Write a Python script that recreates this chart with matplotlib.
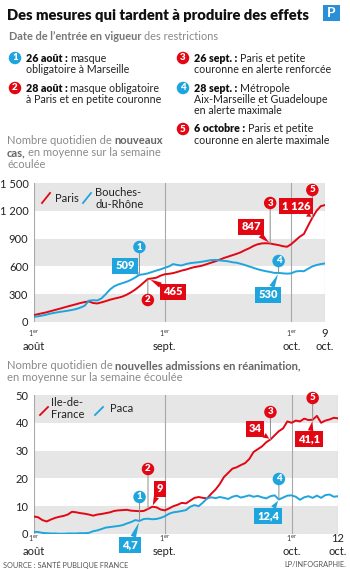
import matplotlib
matplotlib.use("Agg")
import matplotlib.pyplot as plt
from matplotlib.transforms import Affine2D, blended_transform_factory
from matplotlib.patches import Rectangle
from matplotlib.lines import Line2D

plt.rcParams["font.family"] = ["Lato", "DejaVu Sans"]

RED = "#e30613"
BLUE = "#1ea5de"
GREY_TXT = "#8a8a8a"
BAND = "#e6e6e6"
VLINE = "#a8a8a8"

# ---- data (day 0 = 1er août) ----
cases_paris = [75, 85, 95, 105, 118, 130, 142, 155, 168, 180, 192, 205, 215, 222, 205,
               200, 212, 225, 240, 252, 262, 275, 295, 320, 350, 385, 425, 465, 470, 478,
               500, 515, 520, 528, 540, 555, 565, 580, 592, 600, 610, 625, 640, 655, 672,
               690, 705, 720, 735, 752, 775, 795, 820, 838, 848, 850, 847, 838, 830, 818,
               812, 840, 880, 920, 950, 1040, 1126, 1200, 1250, 1262]
cases_bdr = [55, 62, 70, 80, 92, 100, 108, 115, 122, 130, 140, 155, 175, 230, 235,
             232, 255, 300, 350, 385, 405, 420, 435, 455, 480, 509, 515, 525, 540, 555,
             568, 585, 600, 625, 615, 610, 625, 635, 640, 645, 652, 660, 668, 670, 665,
             660, 655, 645, 640, 628, 615, 600, 585, 570, 558, 548, 540, 530, 530, 525,
             522, 525, 545, 550, 548, 575, 600, 615, 625, 632]
rea_idf = [6.3, 6.0, 5.0, 4.5, 5.2, 5.8, 6.2, 6.5, 7.0, 8.0, 7.8, 7.5, 7.3, 7.0, 6.6,
           7.0, 7.2, 7.5, 7.8, 8.3, 8.5, 8.6, 8.7, 8.4, 8.3, 8.2, 8.3, 9.0, 9.8, 9.6,
           8.8, 8.5, 9.2, 10.0, 10.5, 11.2, 11.0, 12.0, 13.0, 13.3, 13.0, 12.8, 14.5, 16.0, 18.0,
           20.5, 22.0, 23.5, 24.0, 24.8, 25.5, 27.0, 29.5, 30.5, 31.5, 33.0, 34.0, 35.5, 37.0, 38.0,
           40.5, 40.0, 40.8, 40.5, 41.5, 41.0, 41.1, 42.5, 40.0, 40.8, 41.2, 41.8, 41.6]
rea_paca = [0.8, 0.7, 0.4, 0.3, 0.2, 0.2, 0.1, 0.1, 0.2, 0.2, 0.2, 0.3, 0.3, 0.4, 1.0,
            1.3, 1.8, 2.3, 2.5, 2.7, 2.9, 3.2, 3.8, 4.3, 5.0, 4.7, 5.4, 5.5, 5.3, 5.4,
            5.8, 6.4, 7.3, 7.8, 8.0, 8.3, 8.6, 9.8, 10.4, 10.0, 11.3, 12.8, 13.2, 12.9, 13.3,
            13.0, 12.6, 13.4, 13.8, 13.1, 13.5, 13.9, 13.4, 13.7, 13.2, 12.8, 13.6, 13.9, 12.4, 13.1,
            13.8, 13.9, 13.4, 12.3, 13.2, 13.6, 13.0, 13.8, 13.0, 14.0, 14.2, 13.4, 13.6]

month_days = [0, 31, 61]
yticks_cases = [0, 300, 600, 900, 1200, 1500]
ytick_cases_labels = ["0", "300", "600", "900", "1 200", "1 500"]
yticks_rea = [0, 10, 20, 30, 40, 50]

# events: (day, number, colour)
events = [(25, "1", BLUE), (27, "2", RED), (56, "3", RED), (58, "4", BLUE), (66, "5", RED)]

legend_items = [
    ("1", BLUE, "26 août :", [" masque", "obligatoire à Marseille"]),
    ("2", RED, "28 août :", [" masque obligatoire", "à Paris et en petite couronne"]),
    ("3", RED, "26 sept. :", [" Paris et petite", "couronne en alerte renforcée"]),
    ("4", BLUE, "28 sept. :", [" Métropole", "Aix-Marseille et Guadeloupe", "en alerte maximale"]),
    ("5", RED, "6 octobre :", [" Paris et petite", "couronne en alerte maximale"]),
]

fig = plt.figure(figsize=(3.5, 5.69), dpi=100, facecolor="white")
pix = Affine2D().scale(1 / 350, -1 / 569).translate(0, 1) + fig.transFigure
renderer = fig.canvas.get_renderer()


def rich(x, y, parts, size, gap=2.4):
    # parts: list of (text, weight, colour) drawn one after another
    for s, w, c in parts:
        if s.startswith(" "):
            x += gap
            s = s[1:]
        t = fig.text(x, y, s, transform=pix, fontsize=size, fontweight=w, color=c, va="center")
        x += t.get_window_extent(renderer).width


def num_circle(x, y, n, c, trans=pix, ax=None):
    tgt = ax if ax is not None else fig
    tgt.text(x, y, n, transform=trans, fontsize=7, fontweight="heavy", color="white",
             ha="center", va="center",
             bbox=dict(boxstyle="circle,pad=0.18", fc=c, ec="none"), zorder=6)


# ---- header ----
fig.text(7, 15, "Des mesures qui tardent à produire des effets", transform=pix,
         fontsize=10.6, fontweight="heavy", color="#111", va="center")
fig.add_artist(Rectangle((323, 5), 17, 16, transform=pix, fc="#2a8fd6", ec="none"))
fig.text(331.5, 13, "P", transform=pix, fontsize=10, fontweight="bold", color="white",
         ha="center", va="center")
rich(9, 36, [("Date de l’entrée en vigueur", "bold", "#777"),
             (" des restrictions", "normal", "#888")], 7.9)

item_pos = [(15, 58), (15, 88), (183, 58), (183, 88), (183, 129)]
for (cx, cy), (n, c, bold, lines) in zip(item_pos, legend_items):
    num_circle(cx, cy, n, c)
    rich(cx + 11, cy, [(bold, "heavy", "#111"), (lines[0], "normal", "#222")], 7.7)
    for k, ln in enumerate(lines[1:]):
        fig.text(cx + 11, cy + 11.5 * (k + 1), ln, transform=pix, fontsize=7.7,
                 color="#222", va="center")

# ---- chart 1 subtitle ----
rich(7, 141, [("Nombre quotidien de", "normal", GREY_TXT), (" nouveaux", "bold", "#666")], 8)
rich(7, 153, [("cas,", "bold", "#666"), (" en moyenne sur la semaine", "normal", GREY_TXT)], 8)
fig.text(7, 165, "écoulée", transform=pix, fontsize=8, color=GREY_TXT, va="center")


def setup(ax, yt, ylab, xmax):
    for i in range(0, len(yt) - 1, 2):
        ax.axhspan(yt[i], yt[i + 1], color=BAND, lw=0, zorder=0)
    for d in month_days + [xmax]:
        ax.axvline(d, color=VLINE, lw=0.8, zorder=1)
    for s in ax.spines.values():
        s.set_visible(False)
    ax.set_xlim(0, xmax)
    ax.set_ylim(yt[0], yt[-1])
    ax.set_yticks(yt)
    ax.set_yticklabels(ylab, fontsize=8, color="#222")
    ax.tick_params(axis="y", length=0, pad=4)
    ax.set_xticks([])


def x_labels(ax, labels, y):
    tr = blended_transform_factory(ax.transData, pix)
    for d, top, bottom in labels:
        if top == "1er":
            ax.text(d, y, r"1$^{\mathrm{er}}$", transform=tr, fontsize=5, color="#333",
                    ha="center", va="center")
        else:
            ax.text(d, y, top, transform=tr, fontsize=8, color="#222", ha="center", va="center")
        ax.text(d, y + 13, bottom, transform=tr, fontsize=8, color="#222",
                ha="center", va="center")


def label_box(ax, txt, xy, bxy, c):
    ax.annotate(txt, xy=xy, xytext=bxy, textcoords=pix,
                fontsize=8, fontweight="heavy", color="white", ha="center", va="center",
                bbox=dict(boxstyle="square,pad=0.25", fc=c, ec="none"),
                arrowprops=dict(arrowstyle="wedge,tail_width=0.5,shrink_factor=0.5",
                                fc=c, ec="none", shrinkA=0, shrinkB=1),
                annotation_clip=False, zorder=5)


def events_draw(ax, series, cy_list, boxes):
    tr = blended_transform_factory(ax.transData, pix)
    for (d, n, c), cy in zip(events, cy_list):
        v = series[c][d]
        ax.annotate("", xy=(d, v), xytext=(d, cy), textcoords=tr,
                    arrowprops=dict(arrowstyle="-", color="#8c8c8c", lw=0.7,
                                    shrinkA=0, shrinkB=0), zorder=4)
        num_circle(d, cy, n, c, trans=tr, ax=ax)
    for d, txt, c, bx, by in boxes:
        label_box(ax, txt, (d, series[c][d]), (bx, by), c)


# ---- chart 1 ----
ax1 = fig.add_axes([34 / 350, 1 - 322 / 569, 291 / 350, 139 / 569])
setup(ax1, yticks_cases, ytick_cases_labels, 69)
ax1.plot(range(len(cases_paris)), cases_paris, color=RED, lw=1.4, zorder=3)
ax1.plot(range(len(cases_bdr)), cases_bdr, color=BLUE, lw=1.4, zorder=3)
x_labels(ax1, [(0, "1er", "août"), (31, "1er", "sept."), (61, "1er", "oct."), (69, "9", "oct.")], 334)

ax1.add_line(Line2D([42, 50], [203, 193], transform=pix, color=RED, lw=1.3))
fig.text(55, 198, "Paris", transform=pix, fontsize=8, color="#222", va="center")
ax1.add_line(Line2D([83, 91], [203, 193], transform=pix, color=BLUE, lw=1.3))
fig.text(95, 192, "Bouches-", transform=pix, fontsize=8, color="#222", va="center")
fig.text(95, 204, "du-Rhône", transform=pix, fontsize=8, color="#222", va="center")

ser1 = {RED: cases_paris, BLUE: cases_bdr}
events_draw(ax1, ser1, [247, 300, 203, 261, 190],
            [(25, "509", BLUE, 125, 266), (56, "847", RED, 251, 227),
             (58, "530", BLUE, 268, 295), (66, "1 126", RED, 296, 206)])
label_box(ax1, "465", (27.3, cases_paris[27]), (173, 292), RED)

# ---- chart 2 subtitle ----
rich(7, 366, [("Nombre quotidien de", "normal", GREY_TXT),
              (" nouvelles admissions en réanimation,", "bold", "#666")], 8.1)
fig.text(7, 378, "en moyenne sur la semaine écoulée", transform=pix, fontsize=8.1,
         color=GREY_TXT, va="center")

# ---- chart 2 ----
ax2 = fig.add_axes([34 / 350, 1 - 534 / 569, 304 / 350, 139 / 569])
setup(ax2, yticks_rea, [str(v) for v in yticks_rea], 72)
ax2.plot(range(len(rea_idf)), rea_idf, color=RED, lw=1.4, zorder=3)
ax2.plot(range(len(rea_paca)), rea_paca, color=BLUE, lw=1.4, zorder=3)
x_labels(ax2, [(0, "1er", "août"), (31, "1er", "sept."), (61, "1er", "oct."), (72, "12", "oct.")], 539)

ax2.add_line(Line2D([40, 48], [415, 407], transform=pix, color=RED, lw=1.3))
fig.text(51, 403, "Ile-de-", transform=pix, fontsize=8, color="#222", va="center")
fig.text(51, 415, "France", transform=pix, fontsize=8, color="#222", va="center")
ax2.add_line(Line2D([95, 103], [415, 407], transform=pix, color=BLUE, lw=1.3))
fig.text(110, 409, "Paca", transform=pix, fontsize=8, color="#222", va="center")

ser2 = {RED: rea_idf, BLUE: rea_paca}
events_draw(ax2, ser2, [497, 469, 412, 479, 398],
            [(25, "4,7", BLUE, 130, 545), (28, "9", RED, 160, 489), (56, "34", RED, 255, 429),
             (58, "12,4", BLUE, 268, 516), (66, "41,1", RED, 309, 439)])

# ---- footer ----
fig.text(3, 565, "SOURCE : SANTÉ PUBLIQUE FRANCE", transform=pix, fontsize=5.3,
         color="#555", va="center")
fig.text(346, 565, "LP/INFOGRAPHIE.", transform=pix, fontsize=5.3, color="#555",
         va="center", ha="right")

fig.savefig("out.png", dpi=100, facecolor="white")
